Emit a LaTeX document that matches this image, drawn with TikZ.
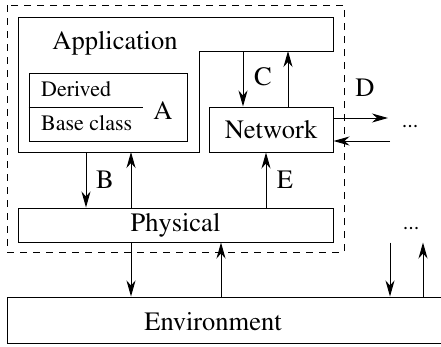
\documentclass[tikz,border=0pt]{standalone}
\usepackage[T1]{fontenc}
\usepackage{mathptmx}
\usetikzlibrary{arrows.meta,calc}

\tikzset{
  box/.style={draw, line width=1pt, inner sep=0pt},
  arr/.style={line width=1pt, -{Stealth[length=16pt,width=9pt,inset=5pt]}},
  big/.style={font=\fontsize{26.5}{30}\selectfont, inner sep=0pt},
  small/.style={font=\fontsize{22}{26}\selectfont, inner sep=0pt},
}

\begin{document}
\begin{tikzpicture}[x=1pt,y=-1pt]
        % page frame
        \useasboundingbox (0,0) rectangle (441,346);
        \clip (0,0) rectangle (441,346);

        % dashed outline of the node
        \draw[line width=1pt, dash pattern=on 7pt off 6pt] (7,5) rectangle (344,252);

        % application block with its tab on the right
        \draw[line width=1pt] (18,17) -- (333,17) -- (333,51) -- (199,51) coordinate (tabsw)
            -- (199,152) coordinate (appbr) -- (18,152) -- cycle;
        \node[big] (app) at (115,43) {Application};

        % class box
        \node[box, minimum width=158pt, minimum height=68pt] (cls) at (108,107) {};
        \draw[line width=1pt] (cls.west) -- ++(114,0);
        \node[small, anchor=west] (derived) at (41,89) {Derived};
        \node[small, anchor=west] (base) at (41,123) {Base class};
        \node[big] (labA) at (163,111) {A};

        % boxes
        \node[box, minimum width=124pt, minimum height=45pt] (net) at (271,129.5) {};
        \node[big] (nettext) at (net.center) {Network};
        \node[box, minimum width=315pt, minimum height=34pt] (phys) at (175.5,225) {};
        \node[big] (phystext) at (phys.center) {Physical};
        \node[box, minimum width=438pt, minimum height=46pt] (env) at (226,320) {};
        \node[big] (envtext) at (213,322) {Environment};

        % application <-> physical
        \draw[arr] ([xshift=-89.5pt]phys.north |- appbr) -- ([xshift=-89.5pt]phys.north);
        \draw[arr] ([xshift=-44.5pt]phys.north) -- ([xshift=-44.5pt]phys.north |- appbr);
        \node[big] (labB) at (105,180) {B};

        % application <-> network
        \draw[arr] ([xshift=-28pt]net.north |- tabsw) -- ([xshift=-28pt]net.north);
        \draw[arr] ([xshift=17pt]net.north) -- ([xshift=17pt]net.north |- tabsw);
        \node[big] (labC) at (263,77) {C};

        % physical -> network
        \draw[arr] ([xshift=-5pt]net.south |- phys.north) -- ([xshift=-5pt]net.south);
        \node[big] (labE) at (285,180) {E};

        % network <-> other nodes
        \coordinate (dout) at (388,118);
        \coordinate (din) at (390,141);
        \draw[arr] (net.east |- dout) -- (dout);
        \draw[arr] (din) -- (net.east |- din);
        \node[big] (labD) at (365,88) {D};
        \node[small] (dots1) at (410,126) {...};

        % physical <-> environment
        \draw[arr] ([xshift=-44.5pt]phys.south) -- ([xshift=-44.5pt]phys.south |- env.north);
        \draw[arr] ([xshift=-5pt]env.north) -- ([xshift=-5pt]env.north |- phys.south);

        % other nodes <-> environment
        \draw[arr] ([xshift=164pt]env.north |- phys.south) -- ([xshift=164pt]env.north);
        \draw[arr] ([xshift=197pt]env.north) -- ([xshift=197pt]env.north |- phys.south);
        \node[small] (dots2) at (411,228) {...};
\end{tikzpicture}
\end{document}
